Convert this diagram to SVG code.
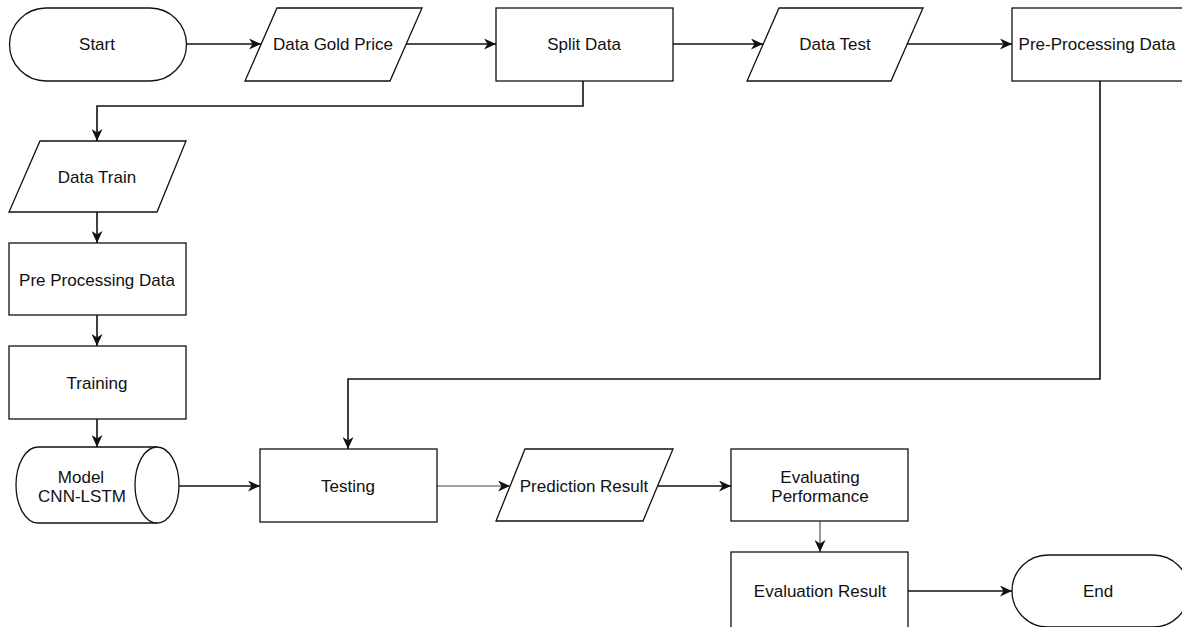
<svg xmlns="http://www.w3.org/2000/svg" width="1182" height="627" viewBox="0 0 1182 627">
<style>
.s{fill:#fff;stroke:#111;stroke-width:1.3}
.t{font-family:"Liberation Sans",Arial,sans-serif;font-size:17px;fill:#111;text-anchor:middle;dominant-baseline:central}
.c{fill:none;stroke:#111;stroke-width:1.6}
.c2{fill:none;stroke:#444;stroke-width:1.1}
</style>
<defs>
<marker id="a" markerUnits="userSpaceOnUse" markerWidth="13" markerHeight="11" refX="12" refY="5.5" orient="auto">
<path d="M0,0 L12,5.5 L0,11 L3.5,5.5 Z" fill="#111"/>
</marker>
</defs>
<rect width="1182" height="627" fill="#fff"/>
<g id="connectors">
<path class="c" d="M186,44 H261" marker-end="url(#a)"/>
<path class="c" d="M406,44 H496" marker-end="url(#a)"/>
<path class="c" d="M673,44 H763" marker-end="url(#a)"/>
<path class="c" d="M907,44 H1012" marker-end="url(#a)"/>
<path class="c" d="M583,81 V106 H97 V141" marker-end="url(#a)"/>
<path class="c" d="M97,212 V243" marker-end="url(#a)"/>
<path class="c" d="M97,315 V346" marker-end="url(#a)"/>
<path class="c" d="M97,419 V447" marker-end="url(#a)"/>
<path class="c" d="M1100,81 V379 H348 V449" marker-end="url(#a)"/>
<path class="c" d="M179,486 H260" marker-end="url(#a)"/>
<path class="c2" d="M437,486 H510" marker-end="url(#a)"/>
<path class="c" d="M658,486 H731" marker-end="url(#a)"/>
<path class="c2" d="M820,521 V552" marker-end="url(#a)"/>
<path class="c" d="M908,591 H1012" marker-end="url(#a)"/>
</g>
<g id="start">
<rect class="s" x="9.5" y="8" width="177" height="73" rx="36.5"/>
<text class="t" x="97" y="44">Start</text>
</g>
<g id="dataGoldPrice">
<polygon class="s" points="277,8 422,8 390,81 245,81"/>
<text class="t" x="333" y="44">Data Gold Price</text>
</g>
<g id="splitData">
<rect class="s" x="496" y="8" width="177" height="73"/>
<text class="t" x="584" y="44">Split Data</text>
</g>
<g id="dataTest">
<polygon class="s" points="779,8 923,8 891,81 747,81"/>
<text class="t" x="835" y="44">Data Test</text>
</g>
<g id="preProcessingDataTest">
<rect class="s" x="1012" y="8" width="177" height="73"/>
<text class="t" x="1097" y="44">Pre-Processing Data</text>
</g>
<g id="dataTrain">
<polygon class="s" points="40,141 186,141 157,212 9,212"/>
<text class="t" x="97" y="177">Data Train</text>
</g>
<g id="preProcessingDataTrain">
<rect class="s" x="9" y="243" width="177" height="72"/>
<text class="t" x="97" y="280">Pre Processing Data</text>
</g>
<g id="training">
<rect class="s" x="9" y="346" width="177" height="73"/>
<text class="t" x="97" y="383">Training</text>
</g>
<g id="model">
<path class="s" d="M38,447 H157 A22,38 0 0 1 157,523 H38 A22,38 0 0 1 38,447 Z"/>
<path class="s" d="M157,447 A22,38 0 0 0 157,523"/>
<text class="t" x="81" y="477">Model</text>
<text class="t" x="82" y="496">CNN-LSTM</text>
</g>
<g id="testing">
<rect class="s" x="260" y="449" width="177" height="73"/>
<text class="t" x="348" y="486">Testing</text>
</g>
<g id="predictionResult">
<polygon class="s" points="525,449 673,449 643,521 496,521"/>
<text class="t" x="584" y="486">Prediction Result</text>
</g>
<g id="evaluatingPerformance">
<rect class="s" x="731" y="449" width="177" height="72"/>
<text class="t" x="820" y="477">Evaluating</text>
<text class="t" x="820" y="496">Performance</text>
</g>
<g id="evaluationResult">
<rect class="s" x="731" y="552" width="177" height="76"/>
<text class="t" x="820" y="591">Evaluation Result</text>
</g>
<g id="end">
<rect class="s" x="1012" y="555" width="177" height="72" rx="36"/>
<text class="t" x="1098" y="591">End</text>
</g>
</svg>
